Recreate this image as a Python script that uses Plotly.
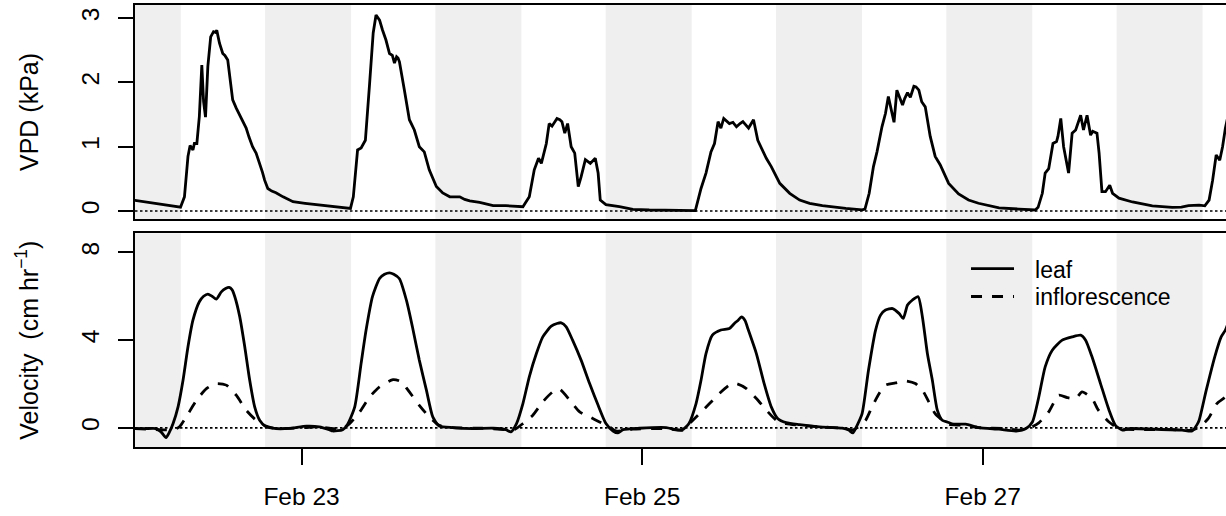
import pandas as pd
import plotly.graph_objects as go

# ---------------- data ----------------
T0 = pd.Timestamp("2024-02-22 00:00")  # hours below are counted from this moment

vpd_hours = [0.5, 2.0, 4.0, 6.0, 6.95,
             7.5, 8.0, 8.3, 8.7, 8.9, 9.25, 9.6, 9.95, 10.2, 10.47, 10.8, 11.2, 11.6, 11.85, 12.06,
             12.44, 12.9, 13.2, 13.6, 13.9, 14.3, 14.8, 15.3, 15.7, 16.2, 16.6, 17.1, 17.6, 18.1, 18.5,
             18.8, 19.25, 19.8, 20.4, 21.4, 22.1, 22.8, 24.5, 26.1, 28.4, 30.9,
             31.3, 31.9, 32.4, 33.0, 33.6, 34.1, 34.5, 35.0, 35.4, 35.9, 36.4, 36.8, 37.1, 37.4, 37.6,
             37.8, 38.5, 39.2, 39.9, 40.6, 41.3, 42.0, 43.0, 43.9, 44.9, 46.3, 47.0, 47.7, 49.1, 51.0,
             52.8, 55.2,
             56.1, 56.8, 57.4, 57.8, 58.5, 58.9, 59.3, 60.0, 60.4, 60.7, 61.1, 61.5, 62.0, 62.5, 63.0,
             63.4, 64.0, 64.4, 64.7, 65.4, 65.8, 66.1, 66.9, 68.8, 70.7, 73.0, 75.4, 79.5,
             80.3, 81.0, 81.7, 82.2, 82.7, 83.1, 83.5, 84.3, 84.8, 85.3, 85.8, 86.2, 87.0, 87.7, 88.3,
             89.5, 90.2, 91.4, 92.8, 94.2, 95.6, 97.4, 100.7, 103.0,
             103.4, 104.0, 104.6, 105.1, 105.8, 106.3, 106.7, 107.0, 107.5, 107.9, 108.3, 108.7, 109.0,
             109.4, 109.8, 110.3, 110.6, 111.0, 111.4, 111.9, 112.6, 113.3, 114.0, 115.2, 116.6, 118.0,
             119.4, 120.8, 122.3, 125.1, 127.4,
             127.8, 128.4, 128.8, 129.3, 129.9, 130.4, 130.6, 131.0, 131.4, 132.1, 132.6, 133.1, 133.8,
             134.2, 134.7, 135.2, 135.5, 136.1, 136.4, 136.8, 137.3, 137.5, 137.9, 138.3, 139.2, 141.1,
             143.9, 146.7, 148.0, 149.0, 150.5, 151.3,
             151.9, 152.4, 152.9, 153.4, 153.8, 154.2, 154.6]
vpd_kpa = [0.165, 0.14, 0.11, 0.08, 0.06,
           0.22, 0.85, 1.02, 0.95, 1.05, 1.05, 1.47, 2.27, 1.70, 1.46, 2.25, 2.71, 2.79, 2.78, 2.81,
           2.61, 2.45, 2.42, 2.35, 2.10, 1.73, 1.60, 1.49, 1.42, 1.29, 1.15, 1.00, 0.90, 0.74, 0.60,
           0.48, 0.35, 0.31, 0.285, 0.22, 0.18, 0.145, 0.12, 0.10, 0.067, 0.04,
           0.22, 0.95, 0.98, 1.10, 1.99, 2.77, 3.05, 2.97, 2.82, 2.66, 2.45, 2.42, 2.30, 2.40, 2.38,
           2.32, 1.88, 1.42, 1.26, 1.00, 0.92, 0.64, 0.38, 0.28, 0.22, 0.22, 0.18, 0.156, 0.135, 0.083,
           0.083, 0.067,
           0.22, 0.64, 0.82, 0.74, 1.05, 1.36, 1.32, 1.44, 1.42, 1.39, 1.21, 1.36, 1.00, 0.90, 0.38,
           0.53, 0.80, 0.76, 0.74, 0.82, 0.59, 0.17, 0.10, 0.067, 0.026, 0.015, 0.01, 0.005,
           0.35, 0.59, 0.92, 1.05, 1.39, 1.29, 1.44, 1.36, 1.38, 1.31, 1.36, 1.39, 1.29, 1.42, 1.10,
           0.82, 0.69, 0.43, 0.275, 0.17, 0.12, 0.083, 0.04, 0.016,
           0.03, 0.275, 0.69, 0.92, 1.31, 1.52, 1.78, 1.62, 1.38, 1.88, 1.75, 1.65, 1.75,
           1.84, 1.77, 1.94, 1.93, 1.88, 1.70, 1.62, 1.16, 0.85, 0.72, 0.43, 0.265, 0.17,
           0.12, 0.08, 0.047, 0.03, 0.016,
           0.057, 0.275, 0.59, 0.66, 1.05, 1.08, 1.16, 1.44, 1.00, 0.59, 1.21, 1.26, 1.49,
           1.26, 1.49, 1.18, 1.24, 1.21, 0.90, 0.30, 0.30, 0.33, 0.40, 0.275, 0.20, 0.14,
           0.078, 0.057, 0.06, 0.083, 0.09, 0.08,
           0.17, 0.48, 0.87, 0.79, 1.00, 1.29, 1.50]

leaf_hours = [0.5, 2.0, 3.5, 4.2, 4.9, 5.4, 5.9, 6.6, 7.3, 8.0, 8.7, 9.6, 10.2, 10.8, 11.4, 12.0, 12.7,
              13.3, 13.8, 14.2, 14.6, 15.3, 16.0, 16.7, 17.4, 18.1, 19.0, 20.4, 22.3, 24.7, 26.5, 27.9,
              28.4, 29.8, 30.5, 31.5, 32.4, 33.1, 34.0, 35.0, 35.7, 36.4, 37.0, 37.8, 38.8, 39.7, 40.6,
              41.6, 42.5, 43.4, 45.3, 48.1, 51.0, 52.8, 53.5, 54.3, 55.2, 56.1, 57.1, 58.0, 59.2, 60.0,
              60.6, 61.3, 62.2, 63.4, 64.6, 65.8, 66.9, 67.9, 68.6, 69.3, 71.6, 75.4, 76.8, 77.7, 78.6,
              79.6, 80.3, 81.0, 81.9, 83.1, 84.3, 85.0, 85.5, 86.0, 86.5, 86.9, 88.1, 89.2, 90.2, 91.1,
              92.3, 94.2, 97.0, 100.2, 101.1, 101.7, 102.3, 103.0, 103.9, 104.9, 105.6, 106.3, 107.3,
              108.2, 108.8, 109.4, 110.1, 110.9, 111.5, 112.2, 112.9, 113.6, 114.3, 115.0, 115.9, 117.6,
              119.4, 122.3, 124.7, 126.1, 127.0, 127.9, 128.8, 129.8, 131.2, 132.6, 133.8, 134.5, 135.4,
              136.6, 137.8, 138.7, 139.7, 140.6, 144.3, 148.1, 149.5, 150.2, 150.5, 151.5, 152.7, 153.6,
              154.2, 154.6]
leaf_cm_hr = [-0.03, -0.03, -0.03, -0.18, -0.44, -0.18, 0.20, 0.96, 2.17, 3.70, 4.91, 5.75, 6.00, 6.10,
              6.00, 5.87, 6.20, 6.35, 6.40, 6.30, 5.98, 5.06, 3.70, 2.17, 0.96, 0.35, 0.05, -0.03, -0.02,
              0.08, 0.05, -0.08, -0.14, -0.08, 0.17, 0.96, 2.94, 4.46, 5.98, 6.81, 7.00, 7.07, 7.00, 6.80,
              5.80, 4.50, 3.09, 1.72, 0.50, 0.09, 0.015, -0.03, -0.015, -0.08, -0.18, 0.20, 1.11, 2.33,
              3.39, 4.15, 4.64, 4.76, 4.79, 4.61, 4.00, 3.09, 2.02, 1.03, 0.20, -0.14, -0.23, -0.08,
              -0.015, 0.015, -0.08, -0.08, 0.20, 1.11, 2.17, 3.39, 4.23, 4.46, 4.53, 4.76, 4.90, 5.06,
              4.90, 4.53, 3.39, 2.02, 0.96, 0.43, 0.24, 0.15, 0.05, -0.015, -0.10, -0.23, 0.12, 0.65,
              2.63, 4.46, 5.14, 5.37, 5.44, 5.22, 4.99, 5.60, 5.83, 5.98, 5.06, 3.39, 2.17, 0.81, 0.35,
              0.27, 0.17, 0.17, 0.015, -0.06, -0.14, -0.03, 0.27, 1.41, 2.78, 3.54, 4.00, 4.15, 4.23,
              4.00, 3.24, 2.02, 0.81, 0.12, -0.10, -0.03, -0.06, -0.10, -0.14, 0.15, 0.35, 1.72, 3.24,
              4.15, 4.46, 4.80]

infl_hours = [0.5, 3.5, 5.9, 6.8, 7.75, 9.2, 10.6, 12.0, 13.4, 14.8, 16.2, 17.6, 19.0, 20.4, 23.7, 26.5,
              28.4, 29.8, 30.8, 32.2, 33.6, 35.0, 36.9, 37.8, 38.3, 39.2, 40.6, 42.0, 43.4, 45.3, 49.5,
              52.8, 54.0, 55.2, 56.6, 58.0, 59.4, 60.4, 61.8, 63.2, 64.6, 66.0, 67.4, 68.3, 70.7, 75.4,
              77.7, 78.9, 80.1, 81.5, 82.9, 84.3, 85.3, 86.7, 88.1, 89.5, 90.9, 92.3, 94.2, 97.0, 100.7,
              101.6, 102.5, 103.5, 104.4, 105.4, 106.3, 107.7, 109.1, 110.5, 111.5, 112.4, 113.3, 114.3,
              115.2, 117.1, 119.4, 123.2, 125.1, 126.5, 127.9, 129.3, 130.7, 131.9, 133.1, 134.0, 135.4,
              136.3, 137.8, 139.2, 142.0, 146.7, 149.5, 150.6, 151.8, 153.0, 154.2, 154.6]
infl_cm_hr = [-0.03, -0.08, -0.08, 0.05, 0.50, 1.26, 1.79, 2.02, 1.95, 1.49, 0.81, 0.35, 0.08, -0.03,
              0.00, 0.05, -0.03, -0.03, 0.20, 0.73, 1.41, 1.87, 2.20, 2.14, 2.02, 1.64, 1.03, 0.50, 0.12,
              0.015, -0.015, -0.08, -0.08, 0.20, 0.58, 1.19, 1.64, 1.75, 1.26, 0.73, 0.50, 0.27, 0.05,
              -0.14, -0.06, -0.03, -0.10, 0.27, 0.65, 1.11, 1.57, 1.95, 2.02, 1.79, 1.34, 0.81, 0.35,
              0.20, 0.12, 0.05, -0.03, -0.10, 0.05, 0.35, 0.96, 1.57, 1.95, 2.05, 2.14, 2.02, 1.72,
              1.19, 0.65, 0.35, 0.17, 0.12, 0.015, -0.03, -0.10, -0.03, 0.23, 0.73, 1.49, 1.38, 1.34,
              1.64, 1.34, 0.81, 0.27, -0.03, -0.08, -0.08, -0.10, 0.05, 0.43, 1.11, 1.41, 1.60]

night_start = ["2024-02-21 18:52", "2024-02-22 18:52", "2024-02-23 18:52", "2024-02-24 18:52",
               "2024-02-25 18:52", "2024-02-26 18:52", "2024-02-27 18:52"]
night_end = ["2024-02-22 06:59", "2024-02-23 06:59", "2024-02-24 06:59", "2024-02-25 06:59",
             "2024-02-26 06:59", "2024-02-27 06:59", "2024-02-28 06:59"]

x_tick_dates = ["2024-02-23", "2024-02-25", "2024-02-27"]
x_tick_labels = ["Feb 23", "Feb 25", "Feb 27"]
vpd_ticks = [0, 1, 2, 3]
vel_ticks = [0, 4, 8]
x_window = ["2024-02-22 00:32", "2024-02-28 10:17"]
series_names = ["leaf", "inflorescence"]


def to_time(hours):
    return [T0 + pd.Timedelta(hours=h) for h in hours]


FONT = "Liberation Sans, Arial, Helvetica, sans-serif"
LW = 2.8
PAD = "\u2002\u2009"  # gap between legend key and label, as in the original

fig = go.Figure()
fig.add_trace(go.Scatter(x=to_time(vpd_hours), y=vpd_kpa, mode="lines",
                         line=dict(color="black", width=LW), showlegend=False,
                         xaxis="x", yaxis="y", name="VPD"))
fig.add_trace(go.Scatter(x=to_time(leaf_hours), y=leaf_cm_hr, mode="lines",
                         line=dict(color="black", width=LW, shape="spline", smoothing=0.6),
                         xaxis="x2", yaxis="y2", name=PAD + series_names[0], legend="legend"))
fig.add_trace(go.Scatter(x=to_time(infl_hours), y=infl_cm_hr, mode="lines",
                         line=dict(color="black", width=LW, dash="11px,10px", shape="spline",
                                   smoothing=0.6),
                         xaxis="x2", yaxis="y2", name=PAD + series_names[1], legend="legend2"))

shapes = []
for xr, yr in (("x", "y"), ("x2", "y2")):
    for s, e in zip(night_start, night_end):
        shapes.append(dict(type="rect", xref=xr, yref=yr + " domain", x0=s, x1=e, y0=0, y1=1,
                           fillcolor="#EFEFEF", line=dict(width=0), layer="below"))
    shapes.append(dict(type="line", xref=xr + " domain", yref=yr, x0=0, x1=1, y0=0, y1=0,
                       line=dict(color="black", width=1.6, dash="2.5px,2.5px"), layer="below"))

axis_common = dict(showgrid=False, zeroline=False, showline=True, linecolor="black", linewidth=1.6,
                   tickcolor="black", tickwidth=1.6, tickfont=dict(size=24.5, color="black", family=FONT))

legend_common = dict(xanchor="left", yanchor="top", bgcolor="rgba(0,0,0,0)",
                     font=dict(size=23, color="black", family=FONT), tracegroupgap=0, itemwidth=43)

fig.update_layout(
    width=1226, height=516,
    margin=dict(l=135, r=0, t=5, b=69),
    paper_bgcolor="white", plot_bgcolor="white",
    font=dict(family=FONT, color="black", size=24),
    shapes=shapes,
    xaxis=dict(domain=[0, 1], anchor="y", range=x_window, type="date", showticklabels=False,
               ticks="", mirror=True, matches="x2", **axis_common),
    yaxis=dict(domain=[0.5158, 1.0], anchor="x", range=[-0.125, 3.205], tickvals=vpd_ticks,
               ticks="outside", ticklen=15, tickangle=-90, ticklabelstandoff=9,
               title=dict(text="VPD (kPa)", font=dict(size=25), standoff=32), **axis_common),
    xaxis2=dict(domain=[0, 1], anchor="y2", range=x_window, type="date", tickvals=x_tick_dates,
                ticktext=x_tick_labels, ticks="outside", ticklen=16, ticklabelstandoff=11,
                mirror=True, **axis_common),
    yaxis2=dict(domain=[0.0, 0.4835], anchor="x2", range=[-0.87, 8.87], tickvals=vel_ticks,
                ticks="outside", ticklen=15, tickangle=-90, ticklabelstandoff=9,
                title=dict(text="Velocity&nbsp; (cm hr<sup>\u22121</sup>)", font=dict(size=25),
                           standoff=32), **axis_common),
    legend=dict(x=0.7617, y=0.452, **legend_common),
    legend2=dict(x=0.7617, y=0.389, **legend_common),
)

fig.write_html("out.html")
